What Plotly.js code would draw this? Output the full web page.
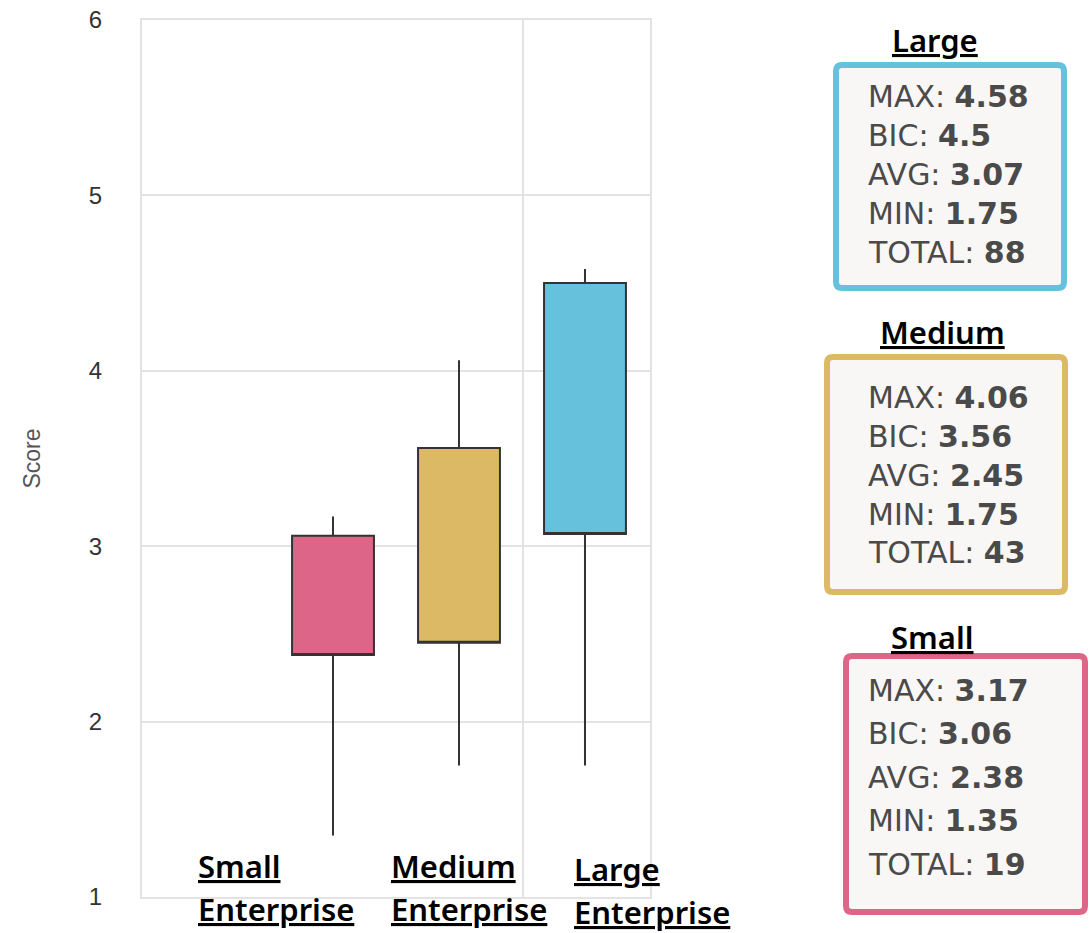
<!DOCTYPE html>
<html>
<head>
<meta charset="utf-8">
<script src="https://cdn.plot.ly/plotly-3.0.1.min.js"></script>
<style>
html,body{margin:0;padding:0;background:#fff;}
#chart{width:1089px;height:933px;}
</style>
</head>
<body>
<div id="chart"></div>
<script>
// ---- data ----
const categories = ['Small Enterprise', 'Medium Enterprise', 'Large Enterprise'];
const shortNames = ['Small', 'Medium', 'Large'];
const maxVals = [3.17, 4.06, 4.58];
const bicVals = [3.06, 3.56, 4.5];
const avgVals = [2.38, 2.45, 3.07];
const minVals = [1.35, 1.75, 1.75];
const totals = [19, 43, 88];
const yTicks = [1, 2, 3, 4, 5, 6];
const colors = ['#dd6688', '#dbb965', '#66c2dc'];

// ---- layout geometry (pixels) ----
const W = 1089, H = 933;
const PL = 142, PR = 650, PT = 20, PB = 897;
const px = x => (x - PL) / (PR - PL);
const py = y => (PB - y) / (PB - PT);

const traces = categories.map((c, i) => ({
  type: 'box',
  name: c,
  x: [c],
  q1: [avgVals[i]],
  median: [avgVals[i]],
  q3: [bicVals[i]],
  lowerfence: [minVals[i]],
  upperfence: [maxVals[i]],
  width: 0.65,
  fillcolor: colors[i],
  line: {color: '#333333', width: 2},
  whiskerwidth: 0,
  boxpoints: false,
  showlegend: false,
  hoverinfo: 'skip'
}));

// stat panel geometry
const panels = [
  {x0: 846, y0: 656, x1: 1085, y1: 912, tx: 932, ty: 637, lx: 866, ly: 690, sp: 43.5},
  {x0: 827, y0: 357, x1: 1065, y1: 592, tx: 942, ty: 332, lx: 866, ly: 398, sp: 38.7},
  {x0: 836, y0: 65, x1: 1064, y1: 288, tx: 935, ty: 40, lx: 866, ly: 97, sp: 38.8}
];

function roundRect(p, r) {
  const {x0, y0, x1, y1} = p;
  const pts = [
    ['M', x0 + r, y0], ['L', x1 - r, y0], ['Q', x1, y0, x1, y0 + r],
    ['L', x1, y1 - r], ['Q', x1, y1, x1 - r, y1], ['L', x0 + r, y1],
    ['Q', x0, y1, x0, y1 - r], ['L', x0, y0 + r], ['Q', x0, y0, x0 + r, y0]
  ];
  return pts.map(s => {
    const out = [s[0]];
    for (let k = 1; k < s.length; k += 2) out.push(px(s[k]) + ',' + py(s[k + 1]));
    return out.join(' ');
  }).join(' ') + ' Z';
}

const labelFont = {family: 'Noto Sans', size: 31, color: '#000', weight: 600};
const statFont = {family: 'DejaVu Sans', size: 30, color: '#4a4a4a'};

const shapes = [
  // extra vertical grid line
  {type: 'line', xref: 'paper', yref: 'paper', x0: px(523), x1: px(523), y0: 0, y1: 1,
   line: {color: '#e3e3e3', width: 2}, layer: 'below'}
];
const annotations = [];

panels.forEach((p, i) => {
  shapes.push({type: 'path', xref: 'paper', yref: 'paper', path: roundRect(p, 6),
    fillcolor: '#f8f7f5', line: {color: colors[i], width: 6}});
  annotations.push({xref: 'paper', yref: 'paper', x: px(p.tx), y: py(p.ty),
    xanchor: 'center', yanchor: 'middle', showarrow: false,
    text: '<u>' + shortNames[i] + '</u>', font: labelFont});
  const lines = [
    'MAX: <b>' + maxVals[i] + '</b>',
    'BIC: <b>' + bicVals[i] + '</b>',
    'AVG: <b>' + avgVals[i] + '</b>',
    'MIN: <b>' + minVals[i] + '</b>',
    'TOTAL: <b>' + totals[i] + '</b>'
  ];
  lines.forEach((t, k) => {
    annotations.push({xref: 'paper', yref: 'paper', x: px(p.lx), y: py(p.ly + k * p.sp),
      xanchor: 'left', yanchor: 'middle', showarrow: false, text: t, font: statFont});
  });
});

// category labels (two lines each)
const catLabelX = [196, 389, 572];
const catLabelY = [866, 866, 869];
categories.forEach((c, i) => {
  const words = c.split(' ');
  words.forEach((w, k) => {
    annotations.push({xref: 'paper', yref: 'paper', x: px(catLabelX[i]), y: py(catLabelY[i] + k * 43),
      xanchor: 'left', yanchor: 'middle', showarrow: false, text: '<u>' + w + '</u>',
      font: labelFont});
  });
});

const layout = {
  width: W, height: H,
  margin: {l: PL, r: W - PR, t: PT, b: H - PB, pad: 0},
  paper_bgcolor: '#ffffff',
  plot_bgcolor: '#ffffff',
  showlegend: false,
  boxmode: 'overlay',
  xaxis: {
    type: 'category',
    range: [-1.516, 2.516],
    showticklabels: false,
    ticks: '',
    showgrid: false,
    zeroline: false,
    showline: true, mirror: true, linecolor: '#e3e3e3', linewidth: 2,
    fixedrange: true
  },
  yaxis: {
    range: [1, 6],
    tickvals: yTicks,
    ticktext: yTicks.map(String),
    ticks: 'outside', ticklen: 33, tickcolor: 'rgba(0,0,0,0)',
    tickfont: {family: 'Liberation Sans, Arial', size: 24, color: '#333'},
    showgrid: true, gridcolor: '#e3e3e3', gridwidth: 2,
    zeroline: false,
    showline: true, mirror: true, linecolor: '#e3e3e3', linewidth: 2,
    title: {text: 'Score', font: {family: 'Liberation Sans, Arial', size: 23, color: '#555'}, standoff: 42},
    automargin: false,
    fixedrange: true
  },
  shapes: shapes,
  annotations: annotations
};

Plotly.newPlot('chart', traces, layout, {displayModeBar: false, staticPlot: true});
</script>
</body>
</html>
